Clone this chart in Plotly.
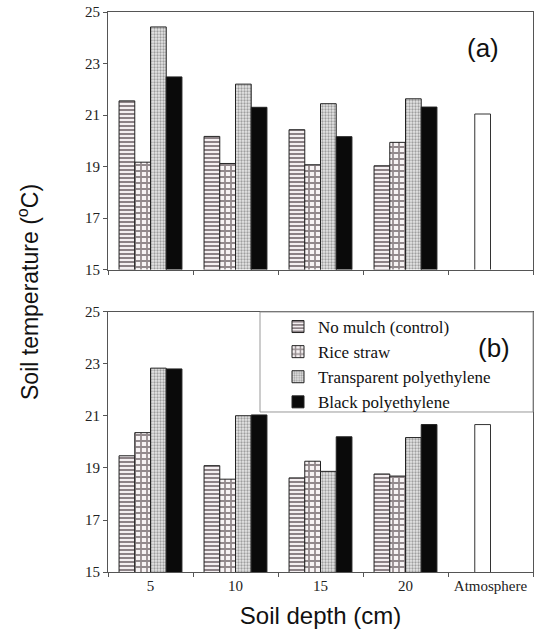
import plotly.graph_objects as go

categories = ["5", "10", "15", "20", "Atmosphere"]
series_names = ["No mulch (control)", "Rice straw", "Transparent polyethylene", "Black polyethylene"]

# Panel (a)
a_no_mulch = [21.55, 20.17, 20.43, 19.03, None]
a_rice_straw = [19.17, 19.12, 19.07, 19.94, None]
a_transparent = [24.42, 22.2, 21.44, 21.63, None]
a_black = [22.48, 21.3, 20.16, 21.31, None]
a_atmosphere = [21.04]

# Panel (b)
b_no_mulch = [19.47, 19.09, 18.62, 18.77, None]
b_rice_straw = [20.36, 18.57, 19.26, 18.69, None]
b_transparent = [22.84, 21.01, 18.87, 20.17, None]
b_black = [22.81, 21.04, 20.2, 20.67, None]
b_atmosphere = [20.67]

styles = [
    dict(color="#f4eff1", pattern=dict(shape="-", fgcolor="#24161b", size=4, solidity=0.5)),
    dict(color="#f7f3f4", pattern=dict(shape="+", fgcolor="#2e2024", size=6, solidity=0.5)),
    dict(color="#e6e6e6", pattern=dict(shape=".", fgcolor="#555555", size=3, solidity=0.45)),
    dict(color="#0a0a0a"),
]
groups = ["g1", "g2", "g3", "g4"]

fig = go.Figure()

panels = [
    ([a_no_mulch, a_rice_straw, a_transparent, a_black], a_atmosphere, "x", "y", False),
    ([b_no_mulch, b_rice_straw, b_transparent, b_black], b_atmosphere, "x2", "y2", True),
]
for vals, atm, xa, ya, show in panels:
    for name, v, st, g in zip(series_names, vals, styles, groups):
        fig.add_trace(go.Bar(
            x=categories, y=v, name=name, offsetgroup=g, xaxis=xa, yaxis=ya,
            showlegend=show, legendgroup=name,
            marker=dict(line=dict(color="#222222", width=1), **st),
        ))
    fig.add_trace(go.Bar(
        x=["Atmosphere"], y=atm, name="Atmosphere", offsetgroup="g2", xaxis=xa, yaxis=ya,
        showlegend=False,
        marker=dict(color="white", line=dict(color="#333333", width=1)),
    ))

tickfont = dict(family="Liberation Serif", size=15, color="#222")
axis_common = dict(showline=True, linecolor="#555", linewidth=1, mirror=True,
                   ticks="outside", ticklen=4, tickcolor="#555", showgrid=False, zeroline=False)

fig.update_layout(
    width=534, height=644,
    margin=dict(l=108, r=1, t=12, b=72),
    paper_bgcolor="white", plot_bgcolor="white",
    barmode="group", bargap=0.26, bargroupgap=0,
    xaxis=dict(domain=[0, 1], anchor="y", type="category", categoryorder="array",
               categoryarray=categories, tickson="boundaries", showticklabels=False,
               **axis_common),
    yaxis=dict(domain=[0.540, 1], anchor="x", range=[15, 25], tickvals=[15, 17, 19, 21, 23, 25],
               tickfont=tickfont, **axis_common),
    xaxis2=dict(domain=[0, 1], anchor="y2", type="category", categoryorder="array",
                categoryarray=categories, tickson="boundaries", tickfont=tickfont,
                title=dict(text="Soil depth (cm)", font=dict(family="Liberation Sans", size=24, color="#111"),
                           standoff=14),
                **axis_common),
    yaxis2=dict(domain=[0, 0.4643], anchor="x2", range=[15, 25], tickvals=[15, 17, 19, 21, 23, 25],
                tickfont=tickfont, **axis_common),
    showlegend=True,
    legend=dict(
        x=(278 - 108) / 425, y=0.4643 + 3 / 560, xanchor="left", yanchor="top",
        xref="paper", yref="paper",
        font=dict(family="Liberation Serif", size=17, color="#111"),
        bgcolor="rgba(0,0,0,0)", borderwidth=0, itemwidth=30, tracegroupgap=0,
    ),
)

# legend frame
fig.add_shape(type="rect", xref="paper", yref="paper",
              x0=(260 - 108) / 425, x1=1, y0=0.4643 - 100 / 560, y1=0.4643,
              line=dict(color="#999", width=1), fillcolor="rgba(0,0,0,0)")

fig.add_annotation(text="Soil temperature (<sup>o</sup>C)", textangle=-90, xref="paper", yref="paper",
                   x=-80 / 425, y=0.5, xanchor="center", yanchor="middle", showarrow=False,
                   font=dict(family="Liberation Sans", size=23, color="#111"))
fig.add_annotation(text="(a)", xref="paper", yref="paper", x=(483 - 108) / 425, y=1 - 36 / 560,
                   xanchor="center", yanchor="middle", showarrow=False,
                   font=dict(family="Liberation Sans", size=26, color="#111"))
fig.add_annotation(text="(b)", xref="paper", yref="paper", x=(494 - 108) / 425, y=1 - 336 / 560,
                   xanchor="center", yanchor="middle", showarrow=False,
                   font=dict(family="Liberation Sans", size=26, color="#111"))

fig.write_html("out.html")
